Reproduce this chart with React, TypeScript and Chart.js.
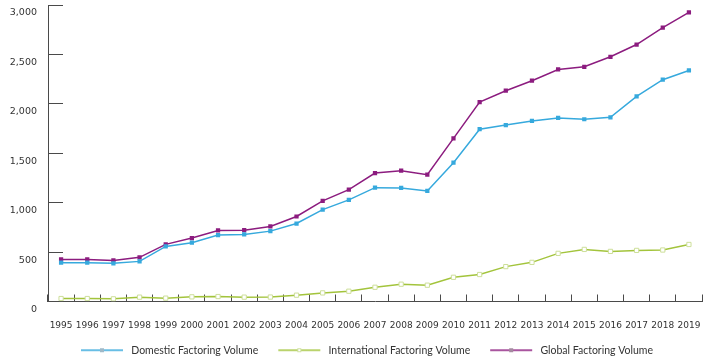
import React, { useEffect, useRef } from "react";
import { Chart, registerables } from "chart.js";

Chart.register(...registerables);

const years = [
  "1995", "1996", "1997", "1998", "1999", "2000", "2001", "2002", "2003", "2004",
  "2005", "2006", "2007", "2008", "2009", "2010", "2011", "2012", "2013", "2014",
  "2015", "2016", "2017", "2018", "2019",
];

const domestic = [
  393, 393, 386, 406, 557, 595, 672, 679, 712, 789,
  930, 1028, 1152, 1149, 1119, 1404, 1743, 1785, 1827, 1857,
  1844, 1864, 2076, 2244, 2338,
];

const international = [
  30, 30, 27, 44, 34, 47, 50, 44, 45, 64,
  87, 104, 144, 175, 165, 245, 273, 353, 396, 487,
  527, 507, 517, 521, 577,
];

const global = [
  426, 426, 416, 447, 578, 642, 719, 722, 759, 860,
  1018, 1132, 1300, 1323, 1283, 1650, 2017, 2133, 2234, 2348,
  2375, 2476, 2600, 2771, 2925,
];

const seriesNames = [
  "Domestic Factoring Volume",
  "International Factoring Volume",
  "Global Factoring Volume",
];

const yTicks = [0, 500, 1000, 1500, 2000, 2500, 3000];

const BLUE = "#36a9dd";
const GREEN = "#a3c43c";
const PURPLE = "#8c1c7f";
const AXIS = "#4a4a4a";
const TEXT = "#333333";

const LEG_PRE = 6;
const LEG_LINE = 42;
const LEG_POST = 3;
const LEG_W = LEG_PRE + LEG_LINE + LEG_POST;

function makeLegendImage(color: string, fill: string, border: string) {
  const c = document.createElement("canvas");
  c.width = LEG_W;
  c.height = 8;
  const ctx = c.getContext("2d")!;
  ctx.strokeStyle = color;
  ctx.lineWidth = 1.5;
  ctx.beginPath();
  ctx.moveTo(LEG_PRE, 4);
  ctx.lineTo(LEG_PRE + LEG_LINE, 4);
  ctx.stroke();
  const cx = LEG_PRE + LEG_LINE / 2;
  ctx.fillStyle = fill;
  ctx.fillRect(cx - 2, 2, 4, 4);
  ctx.strokeStyle = border;
  ctx.lineWidth = 1;
  ctx.strokeRect(cx - 1.5, 2.5, 3, 3);
  return c;
}

export default function App() {
  const ref = useRef<HTMLCanvasElement | null>(null);

  useEffect(() => {
    if (!ref.current) return;
    document.body.style.margin = "0";
    const legendImgs = [
      makeLegendImage(BLUE, "#9fb9c8", "#9fb9c8"),
      makeLegendImage(GREEN, "#ffffff", "#cfe0a0"),
      makeLegendImage(PURPLE, "#a58aa0", "#a58aa0"),
    ];
    const chart = new Chart(ref.current, {
      type: "line",
      data: {
        labels: years,
        datasets: [
          {
            label: seriesNames[0],
            data: domestic,
            borderColor: BLUE,
            backgroundColor: BLUE,
            borderWidth: 1.5,
            pointStyle: "rect",
            pointRadius: 3,
            pointBackgroundColor: BLUE,
            pointBorderColor: BLUE,
            pointBorderWidth: 0,
            tension: 0,
          },
          {
            label: seriesNames[1],
            data: international,
            borderColor: GREEN,
            backgroundColor: GREEN,
            borderWidth: 1.5,
            pointStyle: "rect",
            pointRadius: 3,
            pointBackgroundColor: "#ffffff",
            pointBorderColor: "#cddf9a",
            pointBorderWidth: 1,
            tension: 0,
          },
          {
            label: seriesNames[2],
            data: global,
            borderColor: PURPLE,
            backgroundColor: PURPLE,
            borderWidth: 1.5,
            pointStyle: "rect",
            pointRadius: 3,
            pointBackgroundColor: PURPLE,
            pointBorderColor: PURPLE,
            pointBorderWidth: 0,
            tension: 0,
          },
        ],
      },
      options: {
        animation: false,
        responsive: true,
        maintainAspectRatio: false,
        layout: { padding: { left: 10, right: 10, top: 3, bottom: -4.5 } },
        plugins: {
          tooltip: { enabled: false },
          legend: {
            position: "bottom",
            labels: {
              usePointStyle: true,
              pointStyleWidth: LEG_W,
              padding: 14,
              color: TEXT,
              font: { family: "Lato", size: 10.5 },
              generateLabels: (ch: any) =>
                ch.data.datasets.map((ds: any, i: number) => ({
                  text: ds.label,
                  pointStyle: legendImgs[i],
                  fillStyle: "transparent",
                  strokeStyle: "transparent",
                  lineWidth: 0,
                  hidden: false,
                  datasetIndex: i,
                  fontColor: TEXT,
                })),
            },
          },
        },
        scales: {
          x: {
            type: "category",
            offset: true,
            border: { display: true, color: AXIS, width: 1 },
            grid: {
              offset: true,
              drawOnChartArea: false,
              drawTicks: true,
              tickLength: -7,
              color: AXIS,
            },
            ticks: {
              autoSkip: false,
              maxRotation: 0,
              padding: 26,
              color: TEXT,
              font: { family: "DejaVu Sans", size: 9 },
            },
            afterFit: (s: any) => {
              s.height = 29.5;
              s.paddingLeft = 0;
              s.paddingRight = 0;
            },
          },
          y: {
            min: 0,
            max: 3000,
            border: { display: true, color: AXIS, width: 1 },
            grid: {
              drawOnChartArea: false,
              drawTicks: true,
              tickLength: -15,
              color: AXIS,
            },
            afterBuildTicks: (s: any) => {
              s.ticks = yTicks.map((v) => ({ value: v }));
            },
            ticks: {
              padding: 26,
              labelOffset: 8,
              color: TEXT,
              font: { family: "DejaVu Sans", size: 9.5 },
              callback: (v: any) => Number(v).toLocaleString("en-US"),
            },
            afterFit: (s: any) => {
              s.width = 38;
              s.paddingTop = 0;
              s.paddingBottom = 0;
            },
          },
          yRight: {
            position: "right",
            display: true,
            min: 0,
            max: 3000,
            border: { display: false },
            grid: { display: false, drawTicks: false },
            ticks: { display: false },
            afterFit: (s: any) => {
              s.width = 16;
              s.paddingTop = 0;
              s.paddingBottom = 0;
            },
          },
        },
      },
    });
    return () => chart.destroy();
  }, []);

  return (
    <div style={{ position: "absolute", left: 0, top: 0, width: 728, height: 361 }}>
      <canvas ref={ref} />
    </div>
  );
}
